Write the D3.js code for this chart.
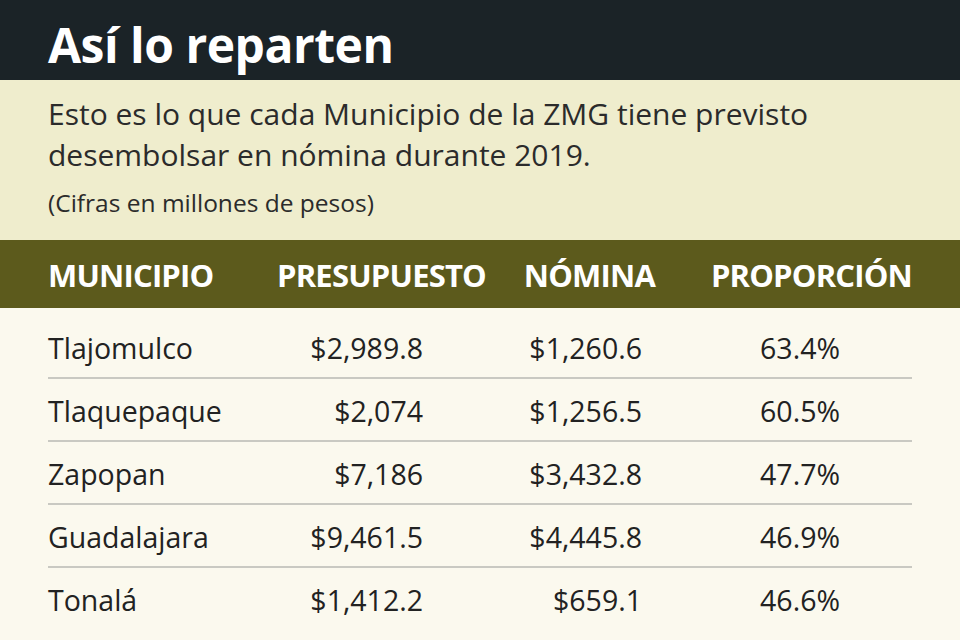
<!DOCTYPE html>
<html>
<head>
<meta charset="utf-8">
<script src="https://cdn.jsdelivr.net/npm/d3@7"></script>
<style>
  body { margin: 0; background: #fbf9ee; }
  svg { display: block; }
</style>
</head>
<body>
<svg id="chart" width="960" height="640"></svg>
<script>
var municipios = ["Tlajomulco", "Tlaquepaque", "Zapopan", "Guadalajara", "Tonalá"];
var presupuesto = ["$2,989.8", "$2,074", "$7,186", "$9,461.5", "$1,412.2"];
var nomina = ["$1,260.6", "$1,256.5", "$3,432.8", "$4,445.8", "$659.1"];
var proporcion = ["63.4%", "60.5%", "47.7%", "46.9%", "46.6%"];
var headers = ["MUNICIPIO", "PRESUPUESTO", "NÓMINA", "PROPORCIÓN"];

var svg = d3.select("#chart");
var font = "'Open Sans', 'Noto Sans', sans-serif";

// title bar
svg.append("rect").attr("width", 960).attr("height", 80).attr("fill", "#1b2327");
svg.append("text").attr("x", 48).attr("y", 63).text("Así lo reparten")
  .attr("fill", "#fff").attr("font-family", font).attr("font-weight", 700)
  .attr("font-size", 48).attr("letter-spacing", -0.5);

// intro band
svg.append("rect").attr("y", 80).attr("width", 960).attr("height", 160).attr("fill", "#efedcd");
var intro = ["Esto es lo que cada Municipio de la ZMG tiene previsto", "desembolsar en nómina durante 2019."];
svg.selectAll("text.intro").data(intro).enter().append("text")
  .attr("class", "intro").attr("x", 48).attr("y", function(d, i) { return 125 + i * 41; })
  .text(function(d) { return d; })
  .attr("fill", "#2b2b2b").attr("font-family", font).attr("font-size", 30);
svg.append("text").attr("x", 48).attr("y", 212).text("(Cifras en millones de pesos)")
  .attr("fill", "#2b2b2b").attr("font-family", font).attr("font-size", 24.5);

// header band
svg.append("rect").attr("y", 240).attr("width", 960).attr("height", 68).attr("fill", "#5c5a1c");
var headX = [48, 486, 655, 912];
var headAnchor = ["start", "end", "end", "end"];
svg.selectAll("text.head").data(headers).enter().append("text")
  .attr("class", "head")
  .attr("x", function(d, i) { return headX[i]; })
  .attr("y", 287)
  .attr("text-anchor", function(d, i) { return headAnchor[i]; })
  .text(function(d) { return d; })
  .attr("fill", "#fff").attr("font-family", font).attr("font-weight", 700)
  .attr("font-size", 31).attr("letter-spacing", -0.8);

// rows
var y = d3.scaleBand().domain(municipios).range([315, 630]);
svg.selectAll("line.sep").data(municipios.slice(0, -1)).enter().append("line")
  .attr("x1", 48).attr("x2", 912)
  .attr("y1", function(d) { return y(d) + y.bandwidth(); })
  .attr("y2", function(d) { return y(d) + y.bandwidth(); })
  .attr("stroke", "#b9b9b3").attr("stroke-width", 1.5);

var cols = [
  { vals: municipios, x: 48, anchor: "start" },
  { vals: presupuesto, x: 423, anchor: "end" },
  { vals: nomina, x: 642, anchor: "end" },
  { vals: proporcion, x: 840, anchor: "end" }
];
cols.forEach(function(c) {
  svg.selectAll(null).data(c.vals).enter().append("text")
    .attr("x", c.x)
    .attr("y", function(d, i) { return y(municipios[i]) + 44; })
    .attr("text-anchor", c.anchor)
    .text(function(d) { return d; })
    .attr("fill", "#222").attr("font-family", font).attr("font-size", 28.5);
});
</script>
</body>
</html>
